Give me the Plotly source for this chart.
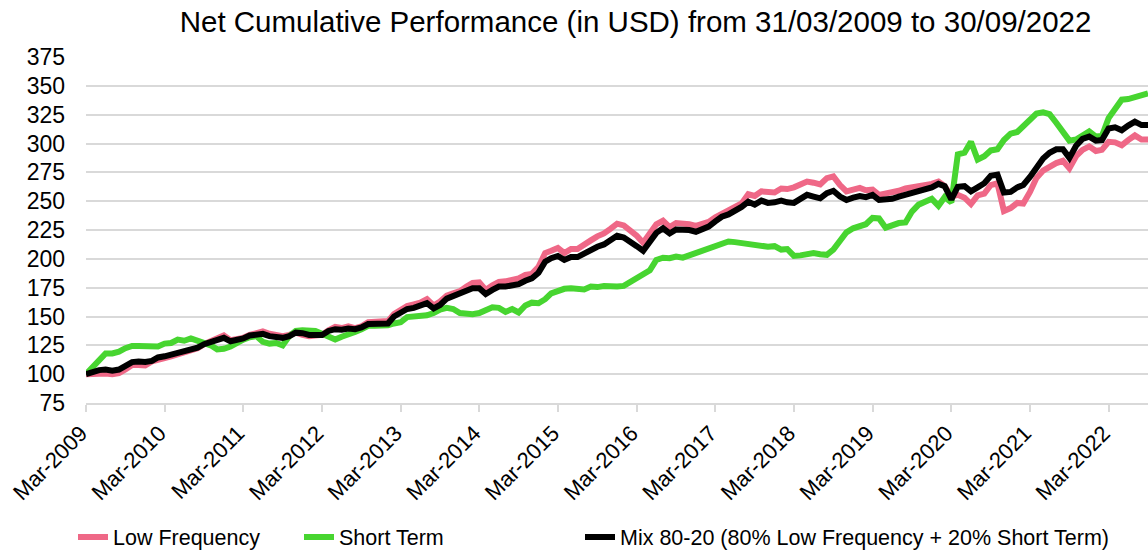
import pandas as pd
import plotly.graph_objects as go

# Monthly dates Mar-2009 .. Sep-2022
dates = pd.date_range("2009-03-31", periods=163, freq="ME")

low_frequency = [
    100, 100.5, 101, 100.5, 100, 101, 104, 108, 108, 107.5, 111, 113,
    114, 115.5, 117.5, 119, 121, 122.5, 126, 128.5, 131, 133.5, 129.5, 130,
    131.5, 134, 135, 137, 135, 134, 133, 134, 136, 134, 133, 133.5,
    134, 138, 141, 140, 141.5, 140, 141.5, 145, 145.5, 145, 146, 152,
    155, 159, 160.5, 162, 165, 159.5, 163, 168, 170, 172, 176, 179,
    179.5, 173, 177, 180, 180.5, 181.5, 183, 186, 187, 193, 205, 207,
    209.5, 205, 208.5, 208.5, 213, 216, 219.5, 222, 226, 230.5, 229, 225,
    220, 214, 222, 230, 233, 227.5, 231, 231, 230, 228.5, 230, 232,
    236, 239, 241, 244, 248, 256, 254.5, 258.5, 257.5, 257.5, 261, 260.5,
    262, 265, 267, 266, 264.5, 270, 271.5, 264, 258.5, 260, 261.5, 259.5,
    260, 255.5, 256.5, 257, 259, 261, 262, 262.5, 264, 265, 267, 263,
    254, 255.5, 253, 247.5, 255, 256.5, 264, 265.5, 241.5, 244, 248.5, 248,
    258, 270, 276.5, 280, 283, 285, 278.5, 289, 294.5, 297.5, 293.5, 294.5,
    301.5, 301, 298.5, 303, 307, 303.5, 303.5,
]

short_term = [
    100, 106, 112, 118, 118, 119.5, 122.5, 124.5, 124.5, 124.5, 124.5, 124,
    126.5, 127, 130, 129, 131, 129, 127, 125, 121.5, 122, 124, 127,
    130, 132, 133, 128, 126.5, 127, 125, 133, 137.5, 138, 138, 137.5,
    135, 132, 130, 132.5, 134, 136.5, 139, 142, 142, 142, 142.5, 144,
    145, 149.5, 150, 150.5, 151, 153, 156, 157.5, 156.5, 153, 152.5, 152,
    153, 155, 158, 157.5, 154, 156.5, 153.5, 159.5, 162, 161.5, 165, 170,
    172.5, 174, 174.5, 174, 173.5, 176, 175.5, 176.5, 176, 176, 176.5, 180,
    183.5, 187, 190, 199, 201, 200.5, 202, 201, 203, 204.5, 206.5, 209.5,
    211.5, 213, 215, 214.5, 213.5, 213, 212.5, 211.5, 210.5, 211, 208, 208.5,
    202.5, 203, 203.5, 205, 204, 203.5, 208, 215.5, 223, 226.5, 228.5, 230,
    235.5, 235, 227, 229.5, 231, 231.5, 241, 247, 250, 252, 246, 253.5,
    249, 290.5, 292, 301.5, 286, 289, 294, 295, 303, 308.5, 310, 315,
    322, 326, 327, 325.5, 318, 309, 302.5, 303.5, 306.5, 310.5, 306, 306.5,
    322, 330, 338, 338.5, 340.5, 342, 343.5,
]

mix_80_20 = [
    100, 102, 103.5, 104, 103, 104, 107, 110.5, 111, 110.5, 111.5, 114.5,
    115.5, 117, 119, 120.5, 122, 123, 126, 127.5, 129.5, 131.5, 128.5, 129.5,
    131, 133.5, 134.5, 135, 133, 132.5, 131.5, 133, 136, 135.5, 134, 134,
    134, 137.5, 139, 138.5, 139.5, 139, 140.5, 143.5, 144, 144, 144, 150,
    153.5, 156.5, 157.5, 159, 161.5, 157, 160, 165.5, 168, 169.5, 172, 174.5,
    174.5, 169.5, 173, 176, 176, 176.5, 178, 181, 183, 188, 197.5, 200.5,
    202.5, 199, 201.5, 201.5, 205, 208, 210.5, 212.5, 216, 220, 218.5, 215.5,
    211, 207, 214.5, 222.5, 226.5, 222, 225.5, 225.5, 225, 223.5, 225.5, 228,
    232.5, 236.5, 238.5, 241.5, 245, 249.5, 247, 250.5, 248.5, 249, 250.5, 249,
    248.5, 252, 255.5, 254, 252.5, 257, 259, 254, 251, 253, 254.5, 253.5,
    255.5, 251, 251, 252, 254, 255.5, 257, 258.5, 260, 262, 265, 263,
    251.5, 262.5, 263, 258.5, 262, 265.5, 272, 273, 257.5, 258, 262, 264,
    271, 280, 287, 292, 295, 295, 287.5, 298, 304, 306, 302.5, 303,
    313, 314, 311.5, 315.5, 319, 316, 316,
]

tick_dates = pd.date_range("2009-03-31", periods=14, freq="12ME")
tick_labels = [f"Mar-{y}" for y in range(2009, 2023)]
y_ticks = [75, 100, 125, 150, 175, 200, 225, 250, 275, 300, 325, 350, 375]

PINK = "#EF6887"
GREEN = "#47D530"
BLACK = "#000000"
FONT = "Liberation Sans, Arial, sans-serif"

fig = go.Figure()
fig.add_trace(go.Scatter(x=dates, y=low_frequency, mode="lines", name="Low Frequency",
                         line=dict(color=PINK, width=6), legend="legend"))
fig.add_trace(go.Scatter(x=dates, y=short_term, mode="lines", name="Short Term",
                         line=dict(color=GREEN, width=6), legend="legend2"))
fig.add_trace(go.Scatter(x=dates, y=mix_80_20, mode="lines",
                         name="Mix 80-20 (80% Low Frequency + 20% Short Term)",
                         line=dict(color=BLACK, width=6), legend="legend3"))

# figure is drawn slightly taller than the 552px window so the legend can sit low
H = 566
leg_common = dict(orientation="h", yanchor="middle", y=-(537 - 403) / 346, xanchor="left",
                  font=dict(family=FONT, size=21.5, color="#000"),
                  bgcolor="rgba(0,0,0,0)", borderwidth=0)

fig.update_layout(
    width=1148, height=H,
    margin=dict(l=86, r=0, t=57, b=H - 403),
    paper_bgcolor="white", plot_bgcolor="white",
    title=dict(text="Net Cumulative Performance (in USD) from 31/03/2009 to 30/09/2022",
               x=0.5536, xref="container", xanchor="center",
               y=1 - 22 / H, yref="container", yanchor="middle",
               font=dict(family=FONT, size=29.5, color="#000")),
    legend=dict(x=(73 - 86) / 1062, **leg_common),
    legend2=dict(x=(299 - 86) / 1062, **leg_common),
    legend3=dict(x=(580 - 86) / 1062, **leg_common),
    showlegend=True,
)

fig.update_xaxes(
    range=[dates[0], dates[-1]],
    tickmode="array", tickvals=tick_dates, ticktext=tick_labels,
    tickangle=-45, tickfont=dict(family=FONT, size=22, color="#000"),
    ticks="outside", ticklen=7, tickwidth=1.5, tickcolor="#D9D9D9",
    ticklabelshift=-5,
    showline=True, linecolor="#D9D9D9", linewidth=1.5,
    showgrid=False, zeroline=False,
)
fig.update_yaxes(
    range=[75, 375], tickmode="array", tickvals=y_ticks,
    tickfont=dict(family=FONT, size=23, color="#000"),
    showgrid=True, gridcolor="#D9D9D9", gridwidth=1.5,
    zeroline=False, showline=False, ticklabelstandoff=20,
)

fig.write_html("out.html", config={"displayModeBar": False},
               post_script="document.body.style.margin='0';document.body.style.overflow='hidden';")
